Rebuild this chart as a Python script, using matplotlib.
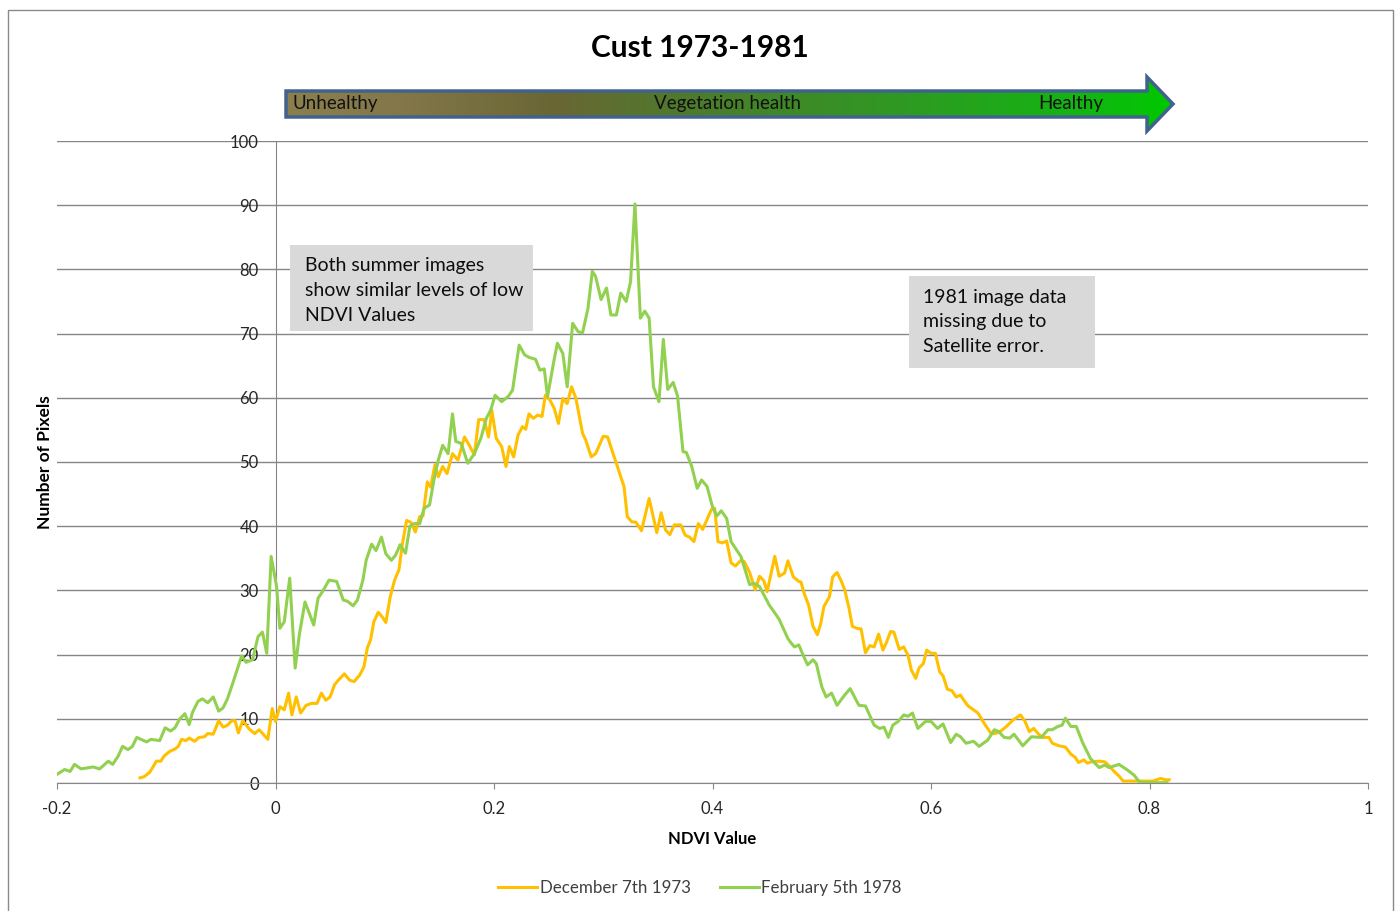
import numpy as np
import matplotlib
matplotlib.use("Agg")
import matplotlib.pyplot as plt
from matplotlib.patches import Polygon, Rectangle
from matplotlib.colors import LinearSegmentedColormap

# NDVI histogram values
ndvi_dec73 = [-0.124, -0.120, -0.115, -0.109, -0.105, -0.102, -0.097, -0.092, -0.089, -0.086,
              -0.082, -0.079, -0.074, -0.070, -0.065, -0.062, -0.057, -0.052, -0.048, -0.044,
              -0.040, -0.037, -0.034, -0.030, -0.024, -0.019, -0.015, -0.007, -0.003, 0.000,
              0.004, 0.008, 0.012, 0.015, 0.019, 0.023, 0.028, 0.033, 0.038, 0.042,
              0.046, 0.050, 0.054, 0.058, 0.063, 0.068, 0.072, 0.077, 0.081, 0.084,
              0.087, 0.090, 0.094, 0.098, 0.101, 0.105, 0.109, 0.113, 0.116, 0.120,
              0.124, 0.128, 0.132, 0.135, 0.139, 0.142, 0.146, 0.149, 0.153, 0.157,
              0.162, 0.167, 0.173, 0.178, 0.182, 0.186, 0.191, 0.195, 0.198, 0.202,
              0.207, 0.211, 0.214, 0.218, 0.222, 0.226, 0.229, 0.232, 0.236, 0.240,
              0.244, 0.247, 0.251, 0.255, 0.259, 0.263, 0.267, 0.271, 0.275, 0.281,
              0.284, 0.289, 0.293, 0.300, 0.304, 0.309, 0.312, 0.316, 0.319, 0.322,
              0.326, 0.330, 0.335, 0.342, 0.349, 0.353, 0.357, 0.361, 0.365, 0.371,
              0.375, 0.379, 0.383, 0.387, 0.391, 0.399, 0.402, 0.405, 0.409, 0.413,
              0.417, 0.421, 0.426, 0.429, 0.434, 0.439, 0.443, 0.447, 0.450, 0.457,
              0.461, 0.466, 0.469, 0.474, 0.479, 0.481, 0.484, 0.488, 0.492, 0.496,
              0.499, 0.502, 0.507, 0.510, 0.514, 0.518, 0.521, 0.525, 0.528, 0.532,
              0.536, 0.540, 0.544, 0.548, 0.552, 0.556, 0.559, 0.563, 0.566, 0.571,
              0.575, 0.579, 0.582, 0.586, 0.589, 0.593, 0.596, 0.600, 0.604, 0.608,
              0.611, 0.615, 0.619, 0.623, 0.627, 0.630, 0.634, 0.639, 0.643, 0.649,
              0.655, 0.659, 0.664, 0.669, 0.675, 0.682, 0.686, 0.690, 0.694, 0.698,
              0.702, 0.708, 0.711, 0.717, 0.723, 0.728, 0.732, 0.735, 0.740, 0.743,
              0.747, 0.754, 0.759, 0.763, 0.767, 0.772, 0.776, 0.787, 0.803, 0.810,
              0.815, 0.818]
pixels_dec73 = [0.8, 1.0, 1.7, 3.4, 3.4, 4.2, 4.9, 5.3, 5.7, 6.8,
                6.6, 7.0, 6.5, 7.1, 7.2, 7.7, 7.6, 9.7, 8.7, 9.0,
                9.7, 9.7, 7.8, 9.7, 8.4, 7.7, 8.3, 6.8, 11.6, 9.6,
                11.9, 11.4, 14.0, 10.6, 13.4, 10.9, 12.1, 12.4, 12.4, 14.0,
                12.9, 13.4, 15.3, 16.1, 17.0, 16.0, 15.8, 16.8, 18.1, 21.0,
                22.3, 25.1, 26.6, 25.8, 25.0, 29.0, 31.6, 33.2, 37.1, 40.9,
                40.6, 39.1, 41.5, 41.6, 46.9, 46.1, 49.6, 47.7, 49.3, 48.2,
                51.3, 50.3, 53.9, 52.4, 51.1, 56.6, 56.6, 53.9, 58.1, 53.7,
                52.4, 49.3, 52.4, 50.8, 54.2, 55.5, 55.1, 57.5, 56.8, 57.3,
                57.1, 60.4, 59.7, 58.4, 56.0, 59.9, 59.1, 61.7, 59.9, 54.5,
                53.4, 50.8, 51.3, 54.0, 53.9, 51.3, 49.8, 47.7, 46.2, 41.5,
                40.7, 40.6, 39.3, 44.3, 39.0, 42.1, 39.4, 38.7, 40.2, 40.2,
                38.6, 38.3, 37.6, 40.4, 39.5, 42.6, 42.8, 37.6, 37.4, 37.7,
                34.3, 33.8, 34.7, 34.5, 32.8, 30.1, 32.2, 31.5, 29.8, 35.3,
                32.2, 32.7, 34.6, 32.1, 31.4, 31.3, 29.5, 27.7, 24.4, 23.1,
                24.8, 27.5, 29.0, 32.1, 32.8, 31.4, 30.1, 27.2, 24.4, 24.1,
                24.0, 20.3, 21.4, 21.2, 23.2, 20.7, 21.8, 23.6, 23.5, 20.8,
                21.2, 19.9, 17.6, 16.3, 17.9, 18.6, 20.7, 20.2, 20.2, 17.3,
                16.7, 14.6, 14.4, 13.4, 13.7, 12.9, 12.0, 11.4, 10.9, 9.2,
                7.7, 7.7, 8.1, 8.8, 9.8, 10.6, 9.6, 8.0, 8.5, 7.7,
                7.1, 7.1, 6.2, 5.8, 5.6, 4.5, 4.0, 3.2, 3.6, 3.1,
                3.3, 3.4, 3.3, 2.7, 1.9, 1.1, 0.3, 0.3, 0.3, 0.7,
                0.5, 0.5]

ndvi_feb78 = [-0.200, -0.193, -0.188, -0.184, -0.178, -0.167, -0.161, -0.153, -0.149, -0.144,
              -0.140, -0.135, -0.131, -0.127, -0.118, -0.114, -0.106, -0.101, -0.096, -0.092,
              -0.088, -0.083, -0.079, -0.076, -0.071, -0.067, -0.062, -0.057, -0.052, -0.048,
              -0.044, -0.039, -0.034, -0.031, -0.027, -0.021, -0.016, -0.012, -0.008, -0.004,
              0.001, 0.004, 0.008, 0.013, 0.018, 0.022, 0.027, 0.031, 0.035, 0.039,
              0.043, 0.049, 0.056, 0.062, 0.066, 0.071, 0.075, 0.080, 0.083, 0.088,
              0.092, 0.097, 0.101, 0.106, 0.110, 0.114, 0.119, 0.123, 0.127, 0.132,
              0.136, 0.141, 0.145, 0.149, 0.153, 0.158, 0.162, 0.165, 0.170, 0.176,
              0.182, 0.188, 0.193, 0.197, 0.201, 0.207, 0.213, 0.217, 0.223, 0.228,
              0.232, 0.238, 0.242, 0.246, 0.249, 0.255, 0.258, 0.263, 0.267, 0.272,
              0.277, 0.281, 0.286, 0.290, 0.293, 0.298, 0.303, 0.307, 0.312, 0.316,
              0.321, 0.325, 0.329, 0.334, 0.338, 0.342, 0.346, 0.351, 0.355, 0.359,
              0.364, 0.368, 0.373, 0.376, 0.381, 0.386, 0.390, 0.395, 0.400, 0.404,
              0.408, 0.413, 0.417, 0.422, 0.426, 0.434, 0.438, 0.443, 0.447, 0.452,
              0.457, 0.461, 0.469, 0.472, 0.475, 0.479, 0.483, 0.487, 0.492, 0.495,
              0.500, 0.504, 0.509, 0.514, 0.521, 0.526, 0.530, 0.534, 0.540, 0.548,
              0.553, 0.557, 0.561, 0.565, 0.570, 0.575, 0.579, 0.583, 0.588, 0.595,
              0.600, 0.606, 0.611, 0.618, 0.623, 0.627, 0.632, 0.639, 0.644, 0.652,
              0.658, 0.662, 0.667, 0.672, 0.676, 0.684, 0.692, 0.701, 0.707, 0.711,
              0.716, 0.720, 0.723, 0.728, 0.733, 0.739, 0.746, 0.754, 0.759, 0.763,
              0.772, 0.780, 0.786, 0.791, 0.803, 0.816]
pixels_feb78 = [1.35, 2.1, 1.8, 2.9, 2.2, 2.5, 2.2, 3.4, 2.9, 4.2,
                5.7, 5.2, 5.7, 7.1, 6.4, 6.8, 6.6, 8.6, 8.1, 8.6,
                9.9, 10.8, 9.1, 11.0, 12.7, 13.1, 12.5, 13.4, 11.2, 11.7,
                13.1, 15.6, 18.2, 19.8, 18.8, 19.2, 22.8, 23.5, 20.2, 35.3,
                30.6, 24.1, 25.1, 31.9, 17.9, 23.3, 28.2, 26.4, 24.6, 28.8,
                29.8, 31.6, 31.4, 28.5, 28.3, 27.6, 28.5, 31.6, 34.7, 37.2,
                36.2, 38.3, 35.7, 34.7, 35.5, 37.1, 35.8, 40.0, 40.4, 40.4,
                42.8, 43.3, 47.2, 50.3, 52.6, 51.3, 57.5, 53.2, 52.9, 49.8,
                51.3, 53.7, 56.8, 58.1, 60.4, 59.4, 60.2, 61.2, 68.2, 66.7,
                66.3, 66.0, 64.3, 64.5, 60.2, 65.9, 68.5, 66.9, 61.7, 71.6,
                70.3, 70.1, 73.9, 79.7, 78.9, 75.3, 77.1, 72.9, 72.9, 76.3,
                75.0, 78.1, 90.2, 72.4, 73.5, 72.4, 61.7, 59.4, 69.1, 61.3,
                62.4, 60.3, 51.6, 51.5, 49.3, 45.9, 47.2, 46.2, 43.0, 41.6,
                42.4, 41.2, 37.6, 36.3, 35.3, 30.9, 31.1, 30.6, 29.3, 27.7,
                26.5, 25.5, 22.5, 21.8, 21.2, 21.5, 19.9, 18.4, 19.2, 18.6,
                15.0, 13.4, 14.0, 12.1, 13.7, 14.7, 13.4, 12.1, 12.0, 9.0,
                8.5, 8.7, 7.1, 9.0, 9.6, 10.6, 10.4, 10.9, 8.5, 9.6,
                9.6, 8.5, 9.2, 6.3, 7.6, 7.2, 6.2, 6.5, 5.7, 6.7,
                8.3, 8.0, 7.1, 7.0, 7.6, 5.8, 7.2, 7.1, 8.3, 8.3,
                8.8, 9.0, 10.1, 8.8, 8.8, 6.2, 3.8, 2.4, 2.8, 2.4,
                2.9, 2.0, 1.2, 0.1, 0.05, 0.05]

x_ticks = [-0.2, 0, 0.2, 0.4, 0.6, 0.8, 1]
x_tick_labels = ["-0.2", "0", "0.2", "0.4", "0.6", "0.8", "1"]
y_ticks = list(range(0, 101, 10))

plt.rcParams['font.family'] = ['Lato', 'DejaVu Sans']

W, H = 1400, 911
fig = plt.figure(figsize=(W / 100, H / 100), dpi=100)
fig.patch.set_facecolor("white")

# outer chart border
fig.add_artist(Rectangle((8 / W, -0.01), (1393 - 8) / W, (H - 10) / H + 0.01,
                         transform=fig.transFigure, fill=False,
                         edgecolor="#8a8a8a", linewidth=1.0))

ax = fig.add_axes([57 / W, 1 - 783 / H, (1368 - 57) / W, (783 - 141) / H])
ax.set_xlim(-0.2, 1)
ax.set_ylim(0, 100)

grid_col = "#868686"
ax.set_yticks(y_ticks)
ax.set_xticks(x_ticks)
ax.set_xticklabels(x_tick_labels)
ax.yaxis.grid(True, color=grid_col, linewidth=1.0)
ax.set_axisbelow(True)
for s in ["top", "right"]:
    ax.spines[s].set_visible(False)
ax.spines["left"].set_position(("data", 0))
ax.spines["left"].set_color(grid_col)
ax.spines["bottom"].set_color(grid_col)
ax.tick_params(axis="y", length=0, pad=12, labelsize=12, labelcolor="#262626")
ax.tick_params(axis="x", length=4, color=grid_col, pad=9, labelsize=12, labelcolor="#262626")

ax.plot(ndvi_dec73, pixels_dec73, color="#FFC000", linewidth=2.2, label="December 7th 1973", zorder=4)
ax.plot(ndvi_feb78, pixels_feb78, color="#92D050", linewidth=2.2, label="February 5th 1978", zorder=4)

ax.set_xlabel("NDVI Value", fontsize=12, fontweight="bold")
ax.xaxis.set_label_coords(0.5, -0.074)
ax.set_ylabel("Number of Pixels", fontsize=12.5, fontweight="bold")
ax.yaxis.set_label_coords(-0.003, 0.5)

# annotation boxes
ax.add_patch(Rectangle((0.0137, 70.4), 0.2223, 13.4, facecolor="#D9D9D9",
                       edgecolor="none", zorder=3))
ax.text(0.0274, 81.9, "Both summer images\nshow similar levels of low\nNDVI Values",
        fontsize=14, va="top", ha="left", linespacing=1.56, color="#0d0d0d", zorder=5)
ax.add_patch(Rectangle((0.580, 64.6), 0.170, 14.4, facecolor="#D9D9D9",
                       edgecolor="none", zorder=3))
ax.text(0.593, 77.0, "1981 image data\nmissing due to\nSatellite error.",
        fontsize=14, va="top", ha="left", linespacing=1.56, color="#0d0d0d", zorder=5)

fig.text(0.5, 1 - 48 / H, "Cust 1973-1981", fontsize=21.5, fontweight="bold",
         ha="center", va="center")

fig.legend(loc="center", bbox_to_anchor=(0.5, 1 - 888 / H), ncol=2, frameon=False,
           fontsize=12.2, handlelength=2.3, columnspacing=1.7, handletextpad=0.15,
           labelcolor="#404040")

# vegetation health arrow (pixel-space overlay)
ov = fig.add_axes([0, 0, 1, 1], zorder=10)
ov.set_xlim(0, W)
ov.set_ylim(H, 0)
ov.axis("off")
ov.patch.set_alpha(0)
verts = [(286, 91), (1147, 91), (1147, 77), (1173, 104), (1147, 131), (1147, 117), (286, 117)]
arrow = Polygon(verts, closed=True, facecolor="none", edgecolor="#41628F", linewidth=2.5, zorder=3)
cmap = LinearSegmentedColormap.from_list("veg", [
    (0.0, "#8C7F4E"), (0.12, "#84784A"), (0.3, "#6A6634"), (0.45, "#4E7A2C"),
    (0.7, "#2E9A22"), (0.9, "#12B612"), (1.0, "#00C800")])
grad = ov.imshow(np.linspace(0, 1, 256).reshape(1, -1), cmap=cmap, aspect="auto",
                 extent=(286, 1173, 131, 77), zorder=2)
ov.add_patch(arrow)
grad.set_clip_path(arrow)
ov.set_xlim(0, W)
ov.set_ylim(H, 0)
ov.text(292, 104, "Unhealthy", fontsize=13.5, va="center", ha="left", color="#111111", zorder=4)
ov.text(727, 103, "Vegetation health", fontsize=13.5, va="center", ha="center", color="#111111", zorder=4)
ov.text(1103, 104, "Healthy", fontsize=13.5, va="center", ha="right", color="#111111", zorder=4)

fig.savefig("out.png", dpi=100)
